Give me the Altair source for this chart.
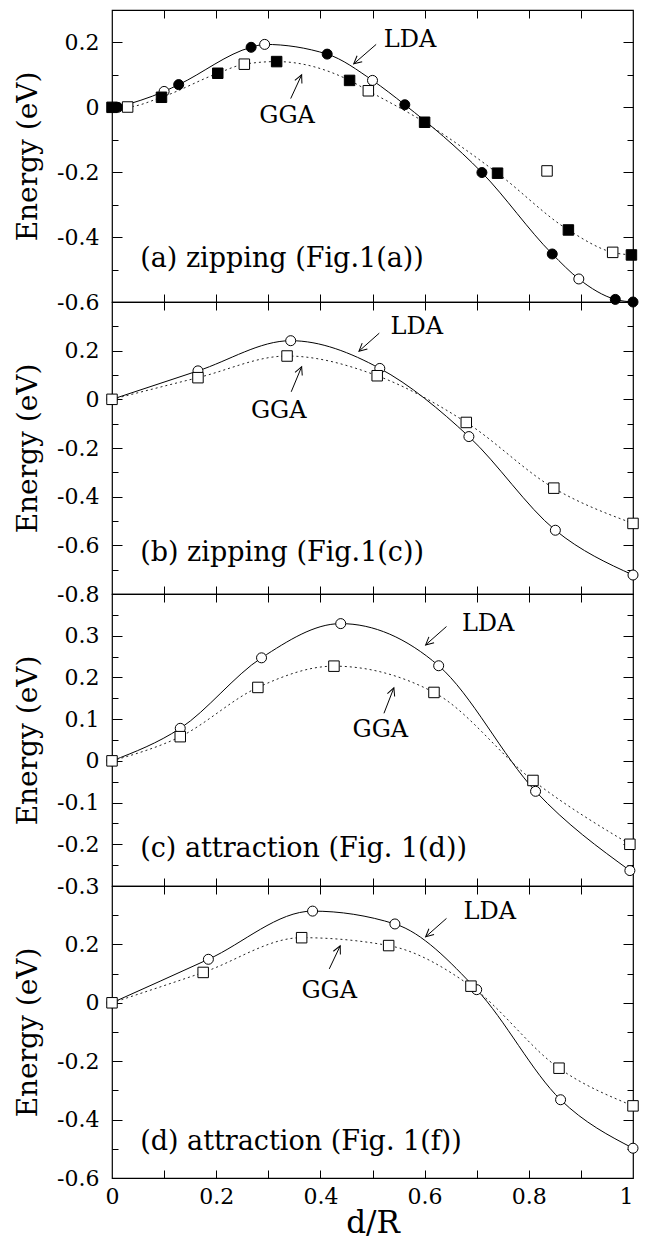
import math
import altair as alt
import pandas as pd

FONT = "DejaVu Serif"
W = 521
H = 292

# ---------------- data ----------------
# panel (a) zipping (Fig.1(a))
A_LDA_X = [0.011, 0.100, 0.128, 0.267, 0.293, 0.413, 0.500, 0.562, 0.710, 0.845, 0.896, 0.966, 1.000]
A_LDA_Y = [0.000, 0.049, 0.070, 0.185, 0.194, 0.164, 0.083, 0.008, -0.201, -0.452, -0.529, -0.592, -0.600]
A_LDA_FILLED = [1, 0, 1, 1, 0, 1, 0, 1, 1, 1, 0, 1, 1]
A_GGA_X = [0.000, 0.030, 0.095, 0.203, 0.254, 0.316, 0.456, 0.492, 0.600, 0.740, 0.835, 0.876, 0.961, 0.997]
A_GGA_Y = [0.000, 0.001, 0.031, 0.105, 0.133, 0.141, 0.083, 0.051, -0.046, -0.203, -0.196, -0.378, -0.447, -0.455]
A_GGA_FILLED = [1, 0, 1, 1, 0, 1, 1, 0, 1, 1, 0, 1, 0, 1]
A_GGA_ONCURVE = [1, 1, 1, 1, 1, 1, 1, 1, 1, 1, 0, 1, 1, 1]

# panel (b) zipping (Fig.1(c))
B_LDA_X = [0.000, 0.165, 0.343, 0.514, 0.685, 0.851, 1.000]
B_LDA_Y = [0.000, 0.117, 0.241, 0.127, -0.153, -0.538, -0.722]
B_GGA_X = [0.000, 0.165, 0.336, 0.509, 0.680, 0.848, 1.000]
B_GGA_Y = [0.000, 0.089, 0.178, 0.097, -0.095, -0.365, -0.510]

# panel (c) attraction (Fig. 1(d))
C_LDA_X = [0.000, 0.131, 0.287, 0.439, 0.627, 0.813, 0.994]
C_LDA_Y = [0.000, 0.078, 0.247, 0.329, 0.228, -0.073, -0.263]
C_GGA_X = [0.000, 0.131, 0.280, 0.426, 0.618, 0.808, 0.994]
C_GGA_Y = [0.000, 0.058, 0.176, 0.227, 0.164, -0.047, -0.200]

# panel (d) attraction (Fig. 1(f))
D_LDA_X = [0.000, 0.185, 0.385, 0.543, 0.700, 0.861, 1.000]
D_LDA_Y = [0.000, 0.149, 0.314, 0.270, 0.045, -0.332, -0.498]
D_GGA_X = [0.000, 0.175, 0.364, 0.531, 0.689, 0.858, 1.000]
D_GGA_Y = [0.000, 0.104, 0.223, 0.196, 0.057, -0.224, -0.353]

# axes
X_TICK_LABELS = [0, 0.2, 0.4, 0.6, 0.8, 1]
Y_DOMAINS = [[-0.6, 0.3], [-0.8, 0.4], [-0.3, 0.4], [-0.6, 0.4]]
Y_LABELS = [
    [0.2, 0, -0.2, -0.4, -0.6],
    [0.2, 0, -0.2, -0.4, -0.6, -0.8],
    [0.3, 0.2, 0.1, 0, -0.1, -0.2, -0.3],
    [0.2, 0, -0.2, -0.4, -0.6],
]
Y_MAJOR = [0.2, 0.2, 0.1, 0.2]
Y_MINOR = [0.1, 0.1, 0.05, 0.1]

CAPTIONS = ["(a) zipping (Fig.1(a))", "(b) zipping (Fig.1(c))",
            "(c) attraction (Fig. 1(d))", "(d) attraction (Fig. 1(f))"]
CAPTION_X = [0.054, 0.054, 0.054, 0.054]
CAPTION_Y = [-0.466, -0.630, -0.212, -0.476]

# annotation: label, text x, text y, arrow tail x, tail y, head x, head y
ANN_LABEL = ["LDA", "GGA"]
ANN_TEXT_X = [[0.572, 0.336], [0.585, 0.320], [0.722, 0.515], [0.725, 0.417]]
ANN_TEXT_Y = [[0.208, -0.028], [0.297, -0.048], [0.329, 0.074], [0.311, 0.042]]
ANN_TAIL_X = [[0.507, 0.343], [0.513, 0.344], [0.642, 0.522], [0.642, 0.417]]
ANN_TAIL_Y = [[0.194, 0.027], [0.272, 0.031], [0.322, 0.114], [0.289, 0.116]]
ANN_HEAD_X = [[0.464, 0.364], [0.474, 0.364], [0.602, 0.541], [0.602, 0.438]]
ANN_HEAD_Y = [[0.134, 0.100], [0.198, 0.134], [0.278, 0.175], [0.226, 0.195]]

ARROW_HEAD = "M-0.45,0.9L0,0L0.45,0.9"


def interior(lo, hi, step):
    n = int(round((hi - lo) / step))
    return [round(lo + i * step, 4) for i in range(1, n)]


def panel(i, lda_x, lda_y, lda_f, gga_x, gga_y, gga_f, gga_on, bottom):
    ydom = Y_DOMAINS[i]
    major = Y_MAJOR[i]
    xs = alt.Scale(domain=[0, 1], nice=False, zero=False, padding=0)
    ys = alt.Scale(domain=ydom, nice=False, zero=False, padding=0)

    lda = pd.DataFrame({"x": lda_x, "y": lda_y,
                        "fill": ["black" if f else "white" for f in lda_f]})
    gga = pd.DataFrame({"x": gga_x, "y": gga_y,
                        "fill": ["black" if f else "white" for f in gga_f],
                        "on": gga_on})
    gga_curve = gga[gga["on"] == 1]

    xinner = interior(0, 1, 0.1)
    yinner = interior(ydom[0], ydom[1], Y_MINOR[i])
    ysize = {"condition": {"test": f"abs(datum.value/{major} - round(datum.value/{major})) < 0.01",
                           "value": 10}, "value": 6}

    if bottom:
        ax_x_lab = alt.Axis(orient="bottom", values=X_TICK_LABELS, ticks=False, domain=False,
                            labelExpr="datum.value == 0 ? '0' : datum.value == 1 ? '1' : format(datum.value, '.1f')",
                            labelAlign={"condition": {"test": "datum.value == 1", "value": "right"},
                                        "value": "center"},
                            labelFlush=False,
                            labelFont=FONT, labelFontSize=22, labelPadding=8, labelColor="black",
                            title="d/R", titleFont=FONT, titleFontSize=31, titleFontWeight="normal",
                            titlePadding=1, titleColor="black", grid=False)
    else:
        ax_x_lab = None
    ax_x_in_bot = alt.Axis(orient="top", offset=-H, values=xinner, labels=False, domain=False,
                           tickSize=8, tickColor="black", title=None, grid=False)
    ax_x_in_top = alt.Axis(orient="bottom", offset=-H, values=xinner, labels=False, domain=False,
                           tickSize=8, tickColor="black", title=None, grid=False)
    ax_y_lab = alt.Axis(orient="left", values=Y_LABELS[i], ticks=False, domain=False,
                        labelExpr="datum.value == 0 ? '0' : (datum.value < 0 ? '-' : '') + format(abs(datum.value), '.1f')",
                        labelFont=FONT, labelFontSize=22, labelPadding=13, labelColor="black",
                        title="Energy (eV)", titleFont=FONT, titleFontSize=28, titleFontWeight="normal",
                        titlePadding=14, titleColor="black", grid=False)
    ax_y_in_left = alt.Axis(orient="right", offset=-W, values=yinner, labels=False, domain=False,
                            tickSize=ysize, tickColor="black", title=None, grid=False)
    ax_y_in_right = alt.Axis(orient="left", offset=-W, values=yinner, labels=False, domain=False,
                             tickSize=ysize, tickColor="black", title=None, grid=False)

    lda_line = alt.Chart(lda).mark_line(color="black", strokeWidth=1, interpolate="monotone").encode(
        x=alt.X("x:Q", scale=xs, axis=ax_x_lab),
        y=alt.Y("y:Q", scale=ys, axis=ax_y_lab))
    gga_line = alt.Chart(gga_curve).mark_line(color="#222222", strokeWidth=1, strokeDash=[2, 3],
                                              interpolate="monotone").encode(
        x=alt.X("x:Q", scale=xs, axis=ax_x_in_bot),
        y=alt.Y("y:Q", scale=ys, axis=ax_y_in_left))
    lda_pts = alt.Chart(lda).mark_point(shape="circle", filled=True, size=100, stroke="black",
                                        strokeWidth=1, opacity=1).encode(
        x=alt.X("x:Q", scale=xs, axis=ax_x_in_top),
        y=alt.Y("y:Q", scale=ys, axis=ax_y_in_right),
        color=alt.Color("fill:N", scale=None))
    gga_pts = alt.Chart(gga).mark_point(shape="square", filled=True, size=110, stroke="black",
                                        strokeWidth=1, opacity=1).encode(
        x=alt.X("x:Q", scale=xs, axis=None),
        y=alt.Y("y:Q", scale=ys, axis=None),
        color=alt.Color("fill:N", scale=None))

    cap = pd.DataFrame({"x": [CAPTION_X[i]], "y": [CAPTION_Y[i]], "t": [CAPTIONS[i]]})
    cap_txt = alt.Chart(cap).mark_text(font=FONT, fontSize=27, align="left", baseline="middle",
                                       color="black").encode(
        x=alt.X("x:Q", scale=xs, axis=None), y=alt.Y("y:Q", scale=ys, axis=None), text="t:N")

    yspan = ydom[1] - ydom[0]
    ang = []
    for k in range(2):
        dx = (ANN_HEAD_X[i][k] - ANN_TAIL_X[i][k]) * W
        dy = (ANN_HEAD_Y[i][k] - ANN_TAIL_Y[i][k]) * H / yspan
        ang.append(math.degrees(math.atan2(dx, dy)) % 360)
    ann = pd.DataFrame({"t": ANN_LABEL, "tx": ANN_TEXT_X[i], "ty": ANN_TEXT_Y[i],
                        "ax": ANN_TAIL_X[i], "ay": ANN_TAIL_Y[i],
                        "hx": ANN_HEAD_X[i], "hy": ANN_HEAD_Y[i], "ang": ang})
    ann_txt = alt.Chart(ann).mark_text(font=FONT, fontSize=24, align="center", baseline="middle",
                                       color="black").encode(
        x=alt.X("tx:Q", scale=xs, axis=None), y=alt.Y("ty:Q", scale=ys, axis=None), text="t:N")
    shaft = alt.Chart(ann).mark_rule(color="black", strokeWidth=1).encode(
        x=alt.X("ax:Q", scale=xs, axis=None), y=alt.Y("ay:Q", scale=ys, axis=None),
        x2="hx:Q", y2="hy:Q")
    head = alt.Chart(ann).mark_point(shape=ARROW_HEAD, filled=False, size=300, color="black",
                                     strokeWidth=1, opacity=1).encode(
        x=alt.X("hx:Q", scale=xs, axis=None), y=alt.Y("hy:Q", scale=ys, axis=None),
        angle=alt.Angle("ang:Q", scale=None))

    return alt.layer(lda_line, gga_line, lda_pts, gga_pts, cap_txt, ann_txt, shaft, head).properties(
        width=W, height=H).resolve_axis(x="independent", y="independent")


ones = lambda n: [1] * n
zeros = lambda n: [0] * n

pa = panel(0, A_LDA_X, A_LDA_Y, A_LDA_FILLED, A_GGA_X, A_GGA_Y, A_GGA_FILLED, A_GGA_ONCURVE, False)
pb = panel(1, B_LDA_X, B_LDA_Y, zeros(len(B_LDA_X)), B_GGA_X, B_GGA_Y, zeros(len(B_GGA_X)),
           ones(len(B_GGA_X)), False)
pc = panel(2, C_LDA_X, C_LDA_Y, zeros(len(C_LDA_X)), C_GGA_X, C_GGA_Y, zeros(len(C_GGA_X)),
           ones(len(C_GGA_X)), False)
pd_ = panel(3, D_LDA_X, D_LDA_Y, zeros(len(D_LDA_X)), D_GGA_X, D_GGA_Y, zeros(len(D_GGA_X)),
            ones(len(D_GGA_X)), True)

chart = alt.vconcat(pa, pb, pc, pd_, spacing=0, bounds="flush").properties(
    padding={"left": 5, "top": 0, "right": 0, "bottom": 0}
).configure_view(stroke="black", strokeWidth=1.2).configure_axis(grid=False)

chart.save("out.html", embed_options={"renderer": "svg", "actions": False})
